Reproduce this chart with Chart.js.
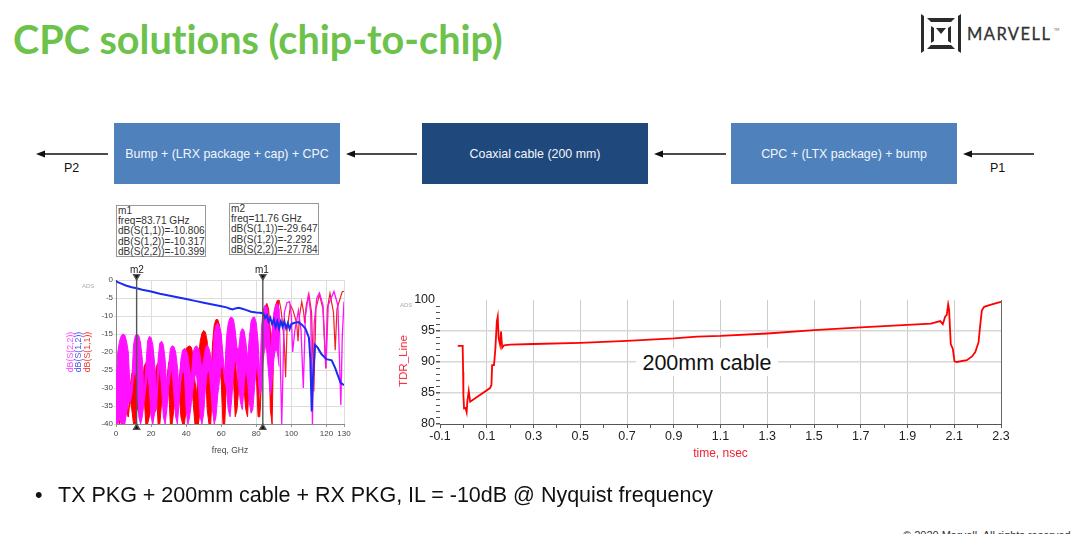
<!DOCTYPE html>
<html>
<head>
<meta charset="utf-8">
<title>CPC solutions (chip-to-chip)</title>
<script src="https://cdn.jsdelivr.net/npm/chart.js@4"></script>
<style>
  html, body { margin: 0; padding: 0; background: #fff; }
  #page { position: relative; width: 1080px; height: 534px; overflow: hidden; font-family: "Liberation Sans", Arial, sans-serif; }
  #page > * { position: absolute; }
  h1 { margin: 0; left: 13px; top: 15px; font: bold 39.6px Lato, sans-serif; font-variant-ligatures: none; color: #6cc24a; white-space: nowrap; }
  .block { top: 123px; height: 61px; width: 226px; background: #4f81bd; color: #f2f6fb; font-size: 12.4px; line-height: 62px; text-align: center; }
  .port { top: 161px; font-size: 12.5px; color: #111; }
  .marker-box { width: 90px; height: 52px; border: 1px solid #999; background: #fff; font-size: 10.1px; line-height: 10.2px; color: #333; padding-left: 1px; box-sizing: border-box; white-space: nowrap; }
  .marker-name { font-size: 10px; color: #222; }
  .rot { transform: translate(-50%, -50%) rotate(-90deg); white-space: nowrap; }
  .ads { font-size: 6px; color: #aaa; }
  canvas { position: absolute; }
</style>
</head>
<body>
<div id="page">
  <h1>CPC solutions (chip-to-chip)</h1>

  <svg style="left:915px;top:8px" width="150" height="50" viewBox="915 8 150 50">
    <polygon points="921,14 924,16 924,51 921,53" fill="#2b2b2b"/>
    <polygon points="961,14 958,16 958,51 961,53" fill="#2b2b2b"/>
    <polygon points="927,18 955,18 951,22 931,22" fill="#2b2b2b"/>
    <polygon points="927,49 955,49 951,45 931,45" fill="#2b2b2b"/>
    <polygon points="931,26 934,28 934,41 931,43" fill="#2b2b2b"/>
    <polygon points="951,26 948,28 948,41 951,43" fill="#2b2b2b"/>
    <polygon points="936,28 946,28 941,34" fill="#2b2b2b"/>
    <text x="967" y="39.5" font-family="Lato, sans-serif" font-size="16.5" letter-spacing="1.45" fill="#333" stroke="#333" stroke-width="0.3">MARVELL</text>
    <text x="1054" y="31" font-family="Lato, sans-serif" font-size="3.5" fill="#555">TM</text>
  </svg>

  <svg style="left:0;top:140px" width="1080" height="30" viewBox="0 140 1080 30">
    <g stroke="#111" stroke-width="1.3">
      <line x1="44" y1="154" x2="108" y2="154"/>
      <line x1="354" y1="154" x2="417" y2="154"/>
      <line x1="662" y1="154" x2="726" y2="154"/>
      <line x1="971" y1="154" x2="1034" y2="154"/>
    </g>
    <g fill="#111">
      <polygon points="36,154 45,150.5 45,157.5"/>
      <polygon points="346,154 355,150.5 355,157.5"/>
      <polygon points="654,154 663,150.5 663,157.5"/>
      <polygon points="963,154 972,150.5 972,157.5"/>
    </g>
  </svg>

  <div class="block" style="left:114px">Bump + (LRX package + cap) + CPC</div>
  <div class="block" style="left:422px;background:#1f497d">Coaxial cable (200 mm)</div>
  <div class="block" style="left:731px">CPC + (LTX package) + bump</div>
  <div class="port" style="left:64px">P2</div>
  <div class="port" style="left:990px">P1</div>

  <div class="marker-box" style="left:116px;top:205px">m1<br>freq=83.71 GHz<br>dB(S(1,1))=-10.806<br>dB(S(1,2))=-10.317<br>dB(S(2,2))=-10.399</div>
  <div class="marker-box" style="left:229px;top:203px">m2<br>freq=11.76 GHz<br>dB(S(1,1))=-29.647<br>dB(S(1,2))=-2.292<br>dB(S(2,2))=-27.784</div>

  <canvas id="spChart" width="300" height="200" style="left:60px;top:260px"></canvas>
  <canvas id="tdrChart" width="640" height="180" style="left:390px;top:285px"></canvas>

  <div class="marker-name" style="left:130px;top:264px">m2</div>
  <div class="marker-name" style="left:255px;top:264px">m1</div>
  <div class="ads" style="left:82px;top:283px">ADS</div>
  <div class="rot" style="left:70px;top:352px;font-size:8.8px;color:#ff44ff">dB(S(2,2))</div>
  <div class="rot" style="left:78px;top:352px;font-size:8.8px;color:#4455ee">dB(S(1,2))</div>
  <div class="rot" style="left:87px;top:352px;font-size:8.8px;color:#ee3333">dB(S(1,1))</div>

  <div class="ads" style="left:400px;top:302px">ADS</div>
  <div class="rot" style="left:403px;top:361px;font-size:11.5px;color:#ee2233">TDR_Line</div>
  <div style="left:636px;top:348px;width:142px;height:28px;background:#fff;font-size:21.5px;line-height:30px;text-align:center;color:#111">200mm cable</div>

  <div style="left:35px;top:483px;font-size:21.5px;color:#111">&bull;</div>
  <div style="left:58px;top:483px;font-size:21.5px;color:#111;white-space:nowrap">TX PKG + 200mm cable + RX PKG, IL = -10dB @ Nyquist frequency</div>
  <div style="left:903px;top:529px;font-size:11px;color:#333;white-space:nowrap">&copy; 2020 Marvell. All rights reserved.</div>
</div>

<script>
// S-parameter chart: axis ticks
const spXTicks = [0, 20, 40, 60, 80, 100, 120, 130];
const spYTicks = [0, -5, -10, -15, -20, -25, -30, -35, -40];
const markerFreqs = [11.76, 83.71];

// the dense part of S(1,1) and S(2,2) is read as an upper and lower edge, one value per GHz
const bandFreq = [0,1,2,3,4,5,6,7,8,9,10,11,12,13,14,15,16,17,18,19,20,21,22,23,24,25,26,27,28,29,30,31,32,33,34,35,36,37,38,39,40,41,42,43,44,45,46,47,48,49,50,51,52,53,54,55,56,57,58,59,60,61,62,63,64,65,66,67,68,69,70,71,72,73,74,75,76,77,78,79,80,81,82,83,84,85,86,87,88,89,90,91,92,93];

const s22High = [-30,-20,-17,-15.5,-15,-15.3,-17,-20,-30,-28,-18,-15.5,-15,-15.5,-17.5,-22,-32,-24,-17,-15.7,-16,-18,-23,-32,-22,-17.5,-17,-18,-22,-30,-24,-19,-18.3,-18.5,-20,-24,-30,-22,-19.5,-19,-19.5,-21,-25,-27,-20,-18.6,-18.3,-19,-21,-25,-22,-19,-18,-19,-21,-24,-15,-12.5,-12,-13,-15,-21,-26,-16,-12,-10.5,-10.3,-11,-14,-19,-19,-14.5,-13.5,-14,-17,-22,-16,-11.5,-10.4,-10.3,-12,-17,-27,-13,-8,-7,-7.5,-10,-20,-14,-9,-7,-6.5,-8];
const s22Low = [-40,-40,-38,-40,-40,-40,-37,-34,-34,-32,-27,-25,-29,-38,-40,-38,-34,-30,-26,-30,-38,-40,-37,-36,-28,-24,-30,-38,-40,-36,-30,-26,-25,-32,-38,-40,-34,-28,-25,-26,-36,-40,-38,-34,-30,-26,-27,-30,-38,-40,-37,-30,-26,-25,-30,-36,-40,-38,-32,-28,-24,-24,-28,-30,-36,-38,-33,-26,-22,-24,-30,-34,-36,-30,-24,-28,-34,-37,-36,-30,-24,-26,-32,-30,-22,-18,-20,-26,-32,-28,-22,-19,-20,-24];
const s11High = [-40,-36,-40,-37,-33,-32,-34,-38,-30,-26,-25,-25,-27,-33,-36,-30,-24,-23,-24,-28,-34,-36,-28,-24,-23,-23,-26,-32,-36,-28,-23,-22,-21.7,-23,-28,-34,-28,-23,-22,-20,-19,-18.5,-18.3,-18.7,-21,-28,-32,-22,-17,-14.8,-14,-14.5,-17,-25,-30,-18,-12.5,-11,-11,-12.5,-16,-25,-30,-18,-14,-13,-13.5,-15,-20,-30,-24,-19,-17.5,-18,-22,-30,-22,-17,-14.5,-14.5,-17,-28,-36,-20,-12,-7.5,-6.5,-8,-14,-18,-10,-7,-5.7,-5.6];
const s11Low = [-40,-38,-40,-38,-35,-35,-36,-38,-33,-36,-40,-40,-36,-36,-38,-33,-32,-40,-40,-38,-36,-38,-32,-30,-40,-40,-34,-34,-38,-31,-30,-40,-40,-36,-32,-36,-31,-38,-40,-40,-36,-30,-28,-28,-34,-40,-40,-40,-36,-26,-26,-24,-36,-40,-40,-30,-24,-22,-22,-24,-28,-40,-40,-28,-24,-22,-24,-28,-38,-36,-30,-26,-26,-30,-36,-38,-28,-24,-22,-22,-26,-38,-38,-28,-18,-13,-12,-14,-36,-40,-16,-12,-11,-12];

// thinner part, read point by point
const s22TailFreq = [93, 94.5, 96, 97.5, 99, 100, 100.7, 102, 104, 105.5, 106.8, 108, 109.7, 111, 112, 113, 114.5, 116, 118, 119.7, 121, 124.3, 126.5, 128.2, 129, 130];
const s22TailDb = [-8, -40, -9, -6.3, -6, -10, -20, -14, -8.5, -14, -30, -10, -4.2, -9, -40, -12, -5, -3.6, -7, -24.5, -7, -3.2, -7, -34.7, -16, -6];
const s11TailFreq = [93, 94, 95, 96, 96.7, 97.5, 99.5, 101, 103, 103.8, 104.6, 105.9, 107, 107.6, 108.5, 110, 111.5, 112.8, 114, 116, 118, 119.6, 120.5, 122, 124, 125, 126, 129, 130];
const s11TailDb = [-5.6, -8, -12, -18, -27, -14, -7, -8.5, -12, -17, -10, -6, -9, -12, -7, -4, -9, -31, -8, -4, -8, -24.6, -8, -3.7, -9, -19.5, -8, -3.2, -3.2];

const s12Freq = [0, 1, 3, 6, 9, 11.76, 15, 20, 25, 30, 35, 40, 45, 50, 55, 60, 63, 65, 66.5, 68, 70, 72, 74, 77, 80, 82, 84, 85, 86, 87, 88, 89, 90, 91, 92, 93, 94, 95, 96, 97, 98, 99, 100, 102, 104, 106, 108, 110, 110.8, 111.6, 112.2, 113.5, 115, 117, 120, 123, 125, 126.5, 128, 130];
const s12Db = [-0.3, -0.6, -1, -1.6, -2, -2.3, -2.7, -3.2, -3.8, -4.3, -4.8, -5.3, -5.8, -6.3, -6.8, -7.3, -7.6, -8, -8.2, -7.9, -7.7, -8, -8.3, -8.8, -9, -9.1, -9.3, -10.5, -9.8, -11.5, -10.5, -12.2, -11, -13, -11.5, -13.5, -11.5, -13, -11.5, -13.4, -12, -13.6, -12.2, -11.9, -11.7, -12.4, -13.5, -16, -22, -36.5, -28, -18, -18.8, -20.5, -22, -22.3, -24.5, -26.5, -28.5, -29.2];

// TDR chart
const tdrXTicks = [-0.1, 0, 0.1, 0.2, 0.3, 0.4, 0.5, 0.6, 0.7, 0.8, 0.9, 1, 1.1, 1.2, 1.3, 1.4, 1.5, 1.6, 1.7, 1.8, 1.9, 2, 2.1, 2.2, 2.3];
const tdrXLabels = [-0.1, 0.1, 0.3, 0.5, 0.7, 0.9, 1.1, 1.3, 1.5, 1.7, 1.9, 2.1, 2.3];
const tdrYTicks = [80, 81, 82, 83, 84, 85, 86, 87, 88, 89, 90, 91, 92, 93, 94, 95, 96, 97, 98, 99, 100];
const tdrYLabels = [80, 85, 90, 95, 100];
const tdrTime = [-0.024, -0.003, -0.001, 0, 0.003, 0.009, 0.014, 0.017, 0.023, 0.029, 0.114, 0.12, 0.123, 0.131, 0.137, 0.143, 0.147, 0.151, 0.157, 0.161, 0.166, 0.174, 0.2, 0.3, 0.5, 0.7, 0.9, 1, 1.1, 1.3, 1.5, 1.7, 1.9, 2, 2.04, 2.051, 2.061, 2.068, 2.074, 2.078, 2.085, 2.094, 2.101, 2.111, 2.154, 2.176, 2.19, 2.204, 2.211, 2.218, 2.228, 2.254, 2.28, 2.3];
const tdrLine = [92.6, 92.6, 88.4, 84.7, 82.5, 82.6, 81.9, 83.6, 85.3, 83.6, 85.8, 86.3, 89.5, 89.5, 92.2, 96.5, 97.3, 93.8, 92.8, 94.9, 92.3, 92.7, 92.8, 92.9, 93.07, 93.4, 93.8, 94.1, 94.2, 94.6, 95.15, 95.6, 96, 96.2, 96.6, 96.1, 97.3, 97.6, 99.3, 98.4, 92.9, 92.1, 90.1, 90, 90.3, 90.9, 91.6, 93.2, 95.9, 98.3, 98.9, 99.2, 99.5, 99.7];

const MAGENTA = '#ff10ff';
const RED = '#ff0000';
const BLUE = '#1a2cf0';
const CLEAR = 'rgba(0,0,0,0)';

function xy(xs, ys) {
  return xs.map((x, i) => ({ x: x, y: ys[i] }));
}

function lineSet(data, color, width, extra) {
  return Object.assign({ data: data, borderColor: color, backgroundColor: color, borderWidth: width, pointRadius: 0, tension: 0 }, extra || {});
}

function markerSet(freq) {
  return {
    data: [{ x: freq, y: 1 }, { x: freq, y: -41 }],
    borderColor: '#555',
    backgroundColor: '#111',
    borderWidth: 1.4,
    pointStyle: 'triangle',
    pointRadius: 3.5,
    pointRotation: [180, 0],
    clip: false
  };
}

new Chart(document.getElementById('spChart'), {
  type: 'line',
  data: {
    // first dataset is drawn on top
    datasets: [
      markerSet(markerFreqs[0]),
      markerSet(markerFreqs[1]),
      lineSet(xy(s12Freq, s12Db), BLUE, 2),
      lineSet(xy(s22TailFreq, s22TailDb), MAGENTA, 1.3),
      lineSet(xy(bandFreq, s22High), MAGENTA, 1),
      lineSet(xy(bandFreq, s22Low), MAGENTA, 1, { fill: '-1' }),
      lineSet(xy(s11TailFreq, s11TailDb), '#f02020', 1.2),
      lineSet(xy(bandFreq, s11High), RED, 1),
      lineSet(xy(bandFreq, s11Low), RED, 1, { fill: '-1' })
    ]
  },
  options: {
    responsive: false,
    animation: false,
    layout: { padding: { top: 20, right: 16, left: 0, bottom: 0 } },
    plugins: { legend: { display: false }, tooltip: { enabled: false } },
    scales: {
      x: {
        type: 'linear',
        min: 0,
        max: 130,
        afterFit: s => { s.height = 36; },
        afterBuildTicks: s => { s.ticks = spXTicks.map(v => ({ value: v })); },
        grid: { color: '#dddddd', tickColor: '#999', tickLength: 3 },
        border: { color: '#888' },
        ticks: { autoSkip: false, maxRotation: 0, padding: 2, color: '#444', font: { family: 'Liberation Sans', size: 8 } },
        title: { display: true, text: 'freq, GHz', color: '#444', padding: { top: 5 }, font: { family: 'Liberation Sans', size: 8.5 } }
      },
      y: {
        min: -40,
        max: 0,
        afterFit: s => { s.width = 56; },
        afterBuildTicks: s => { s.ticks = spYTicks.map(v => ({ value: v })); },
        grid: { color: '#dddddd', tickLength: 2 },
        border: { color: '#888' },
        ticks: { padding: 1, color: '#444', font: { family: 'Liberation Sans', size: 8 } }
      }
    }
  }
});

new Chart(document.getElementById('tdrChart'), {
  type: 'line',
  data: {
    datasets: [lineSet(xy(tdrTime, tdrLine), '#ff0000', 1.8)]
  },
  options: {
    responsive: false,
    animation: false,
    layout: { padding: { top: 15, right: 29, left: 0, bottom: 0 } },
    plugins: { legend: { display: false }, tooltip: { enabled: false } },
    scales: {
      x: {
        type: 'linear',
        min: -0.1,
        max: 2.3,
        afterFit: s => { s.height = 41; },
        afterBuildTicks: s => { s.ticks = tdrXTicks.map(v => ({ value: v })); },
        grid: {
          color: c => {
            if (c.tick.value === 2.3) return '#666666';
            if (c.tick.value === -0.1) return CLEAR;
            return tdrXLabels.includes(c.tick.value) ? '#cccccc' : CLEAR;
          },
          tickColor: '#555',
          tickLength: 4
        },
        border: { color: '#555' },
        ticks: {
          autoSkip: false,
          maxRotation: 0,
          padding: 1,
          color: '#222',
          font: { family: 'Liberation Sans', size: 12.5 },
          callback: v => tdrXLabels.includes(v) ? v.toFixed(1) : ''
        },
        title: { display: true, text: 'time, nsec', color: '#ee2233', padding: { top: 1 }, font: { family: 'Liberation Sans', size: 12 } }
      },
      y: {
        min: 80,
        max: 100,
        afterFit: s => { s.width = 50; },
        afterBuildTicks: s => { s.ticks = tdrYTicks.map(v => ({ value: v })); },
        grid: {
          color: c => (c.tick.value !== 100 && c.tick.value !== 80 && tdrYLabels.includes(c.tick.value)) ? '#d8d8d8' : CLEAR,
          lineWidth: c => tdrYLabels.includes(c.tick.value) ? 1.5 : 1,
          tickColor: c => c.tick.value === 100 ? CLEAR : '#555',
          tickLength: 4
        },
        border: { display: false },
        ticks: {
          autoSkip: false,
          padding: 1,
          color: '#222',
          font: { family: 'Liberation Sans', size: 12.5 },
          callback: v => tdrYLabels.includes(v) ? String(v) : ''
        }
      }
    }
  }
});
</script>
</body>
</html>
